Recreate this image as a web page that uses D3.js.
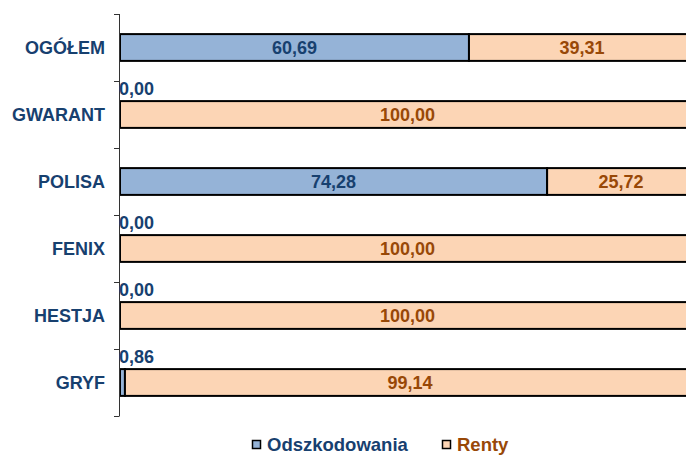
<!DOCTYPE html>
<html>
<head>
<meta charset="utf-8">
<script src="https://cdn.jsdelivr.net/npm/d3@7"></script>
<style>
  body { margin: 0; background: #fff; }
  svg { display: block; font-family: "Liberation Sans", Arial, sans-serif; font-weight: bold; }
</style>
</head>
<body>
<div id="chart"></div>
<script>
// data
const categories = ["OGÓŁEM", "GWARANT", "POLISA", "FENIX", "HESTJA", "GRYF"];
const odszkodowania = [60.69, 0.00, 74.28, 0.00, 0.00, 0.86];
const renty = [39.31, 100.00, 25.72, 100.00, 100.00, 99.14];
const seriesNames = ["Odszkodowania", "Renty"];

const width = 686, height = 456;
const blueFill = "#95b3d7", peachFill = "#fcd5b5";
const blueText = "#17406f", brownText = "#984807";

const svg = d3.select("#chart").append("svg")
    .attr("width", width)
    .attr("height", height);

const x = d3.scaleLinear().domain([0, 100]).range([120, 695]);
const y = d3.scaleBand().domain(categories).range([14, 416])
    .paddingInner(0.6).paddingOuter(0.3);

const fmt = v => v.toFixed(2).replace(".", ",");

let rows = categories.map((c, i) => ({cat: c, a: odszkodowania[i], b: renty[i]}));

const g = svg.append("g");

g.selectAll(".barA")
    .data(rows.filter(d => d.a > 0))
    .enter().append("rect")
    .attr("class", "barA")
    .attr("x", x(0))
    .attr("y", d => y(d.cat))
    .attr("width", d => x(d.a) - x(0))
    .attr("height", y.bandwidth())
    .attr("fill", blueFill)
    .attr("stroke", "#000")
    .attr("stroke-width", 2);

g.selectAll(".barB")
    .data(rows)
    .enter().append("rect")
    .attr("class", "barB")
    .attr("x", d => x(d.a))
    .attr("y", d => y(d.cat))
    .attr("width", d => x(d.a + d.b) - x(d.a))
    .attr("height", y.bandwidth())
    .attr("fill", peachFill)
    .attr("stroke", "#000")
    .attr("stroke-width", 2);

// axis line and ticks at band boundaries
const step = y.step();
const bounds = categories.map(c => y(c) - step * 0.3).concat([y(categories[categories.length - 1]) + y.bandwidth() + step * 0.3]);

svg.append("line")
    .attr("x1", 119.5).attr("x2", 119.5)
    .attr("y1", bounds[0]).attr("y2", bounds[bounds.length - 1])
    .attr("stroke", "#333").attr("stroke-width", 1);

svg.selectAll(".tick")
    .data(bounds)
    .enter().append("line")
    .attr("x1", 114).attr("x2", 119.5)
    .attr("y1", d => Math.round(d) + 0.5).attr("y2", d => Math.round(d) + 0.5)
    .attr("stroke", "#333");

// category labels
svg.selectAll(".cat")
    .data(categories)
    .enter().append("text")
    .attr("x", 105)
    .attr("y", d => y(d) + y.bandwidth() / 2)
    .attr("dy", "0.35em")
    .attr("text-anchor", "end")
    .attr("font-size", 18)
    .attr("fill", blueText)
    .text(d => d);

// value labels: Odszkodowania (small values sit above the bar)
svg.selectAll(".labA")
    .data(rows)
    .enter().append("text")
    .attr("x", d => d.a > 5 ? (x(0) + x(d.a)) / 2 : x(0) - 1)
    .attr("y", d => d.a > 5 ? y(d.cat) + y.bandwidth() / 2 : y(d.cat) - 6)
    .attr("dy", d => d.a > 5 ? "0.35em" : 0)
    .attr("text-anchor", d => d.a > 5 ? "middle" : "start")
    .attr("font-size", 18)
    .attr("fill", blueText)
    .text(d => fmt(d.a));

// value labels: Renty
svg.selectAll(".labB")
    .data(rows)
    .enter().append("text")
    .attr("x", d => (x(d.a) + x(d.a + d.b)) / 2)
    .attr("y", d => y(d.cat) + y.bandwidth() / 2)
    .attr("dy", "0.35em")
    .attr("text-anchor", "middle")
    .attr("font-size", 18)
    .attr("fill", brownText)
    .text(d => fmt(d.b));

// legend
const legend = svg.append("g");
const legendItems = [
    {name: seriesNames[0], fill: blueFill, color: blueText, x: 252},
    {name: seriesNames[1], fill: peachFill, color: brownText, x: 442}
];
legendItems.forEach(it => {
    legend.append("rect")
        .attr("x", it.x + 0.5).attr("y", 440.5)
        .attr("width", 8).attr("height", 8)
        .attr("fill", it.fill)
        .attr("stroke", "#000").attr("stroke-width", 1.5);
    legend.append("text")
        .attr("x", it.x + 15).attr("y", 451)
        .attr("font-size", 18.5)
        .attr("fill", it.color)
        .text(it.name);
});
</script>
</body>
</html>
